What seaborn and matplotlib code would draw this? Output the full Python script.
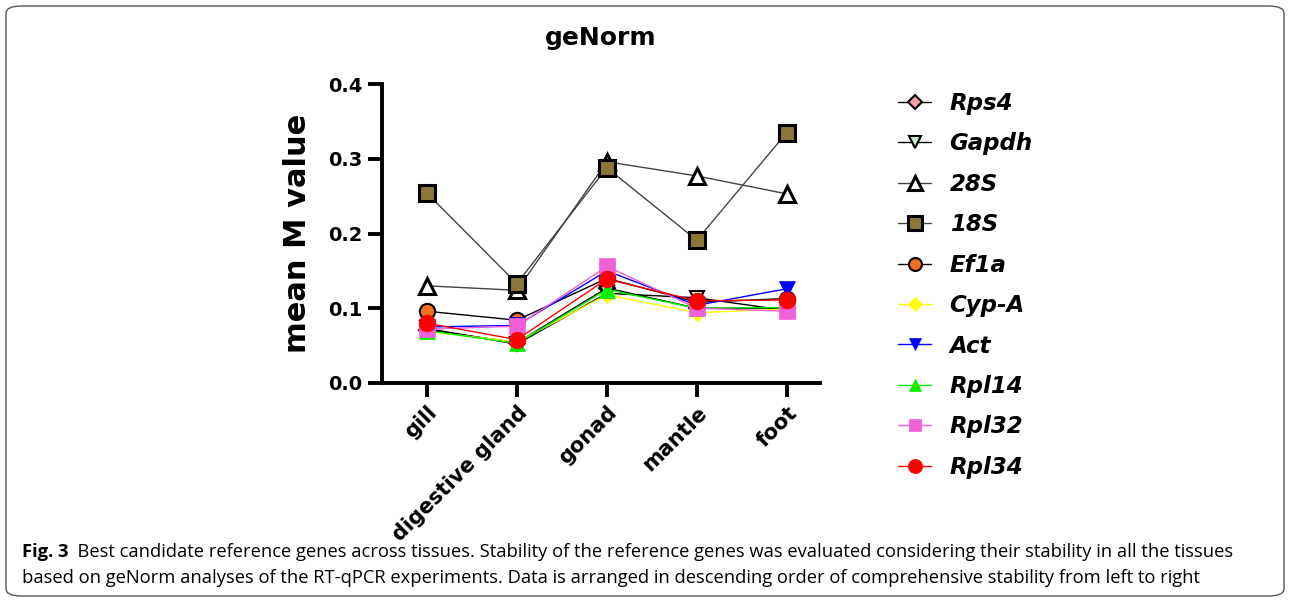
import matplotlib
matplotlib.use("Agg")
import matplotlib.pyplot as plt
from matplotlib.patches import FancyBboxPatch
from matplotlib.lines import Line2D
import seaborn as sns
import pandas as pd

tissues = ["gill", "digestive gland", "gonad", "mantle", "foot"]
genes = ["Rps4", "Gapdh", "28S", "18S", "Ef1a", "Cyp-A", "Act", "Rpl14", "Rpl32", "Rpl34"]

rps4 = [0.071, 0.054, 0.127, 0.100, 0.100]
gapdh = [0.073, 0.052, 0.120, 0.114, 0.097]
s28 = [0.130, 0.124, 0.296, 0.277, 0.253]
s18 = [0.254, 0.133, 0.288, 0.191, 0.335]
ef1a = [0.096, 0.084, 0.140, 0.108, 0.113]
cypa = [0.069, 0.055, 0.118, 0.094, 0.099]
act = [0.075, 0.077, 0.150, 0.104, 0.126]
rpl14 = [0.070, 0.053, 0.125, 0.100, 0.101]
rpl32 = [0.072, 0.076, 0.156, 0.100, 0.096]
rpl34 = [0.080, 0.058, 0.139, 0.110, 0.111]
values = [rps4, gapdh, s28, s18, ef1a, cypa, act, rpl14, rpl32, rpl34]

title = "geNorm"
ylabel = "mean M value"
yticks = [0.0, 0.1, 0.2, 0.3, 0.4]
caption_bold = "Fig. 3"
caption_1 = "  Best candidate reference genes across tissues. Stability of the reference genes was evaluated considering their stability in all the tissues"
caption_2 = "based on geNorm analyses of the RT-qPCR experiments. Data is arranged in descending order of comprehensive stability from left to right"

styles = {
    "Rps4":  dict(marker="D", mfc="#f4a3a8", mec="black", line="black", ms=8, mew=1.5),
    "Gapdh": dict(marker="v", mfc="#c8f0c8", mec="black", line="black", ms=10, mew=1.5),
    "28S":   dict(marker="^", mfc="white", mec="black", line="#444444", ms=12, mew=2.2),
    "18S":   dict(marker="s", mfc="#8a7838", mec="black", line="#444444", ms=12, mew=2.2),
    "Ef1a":  dict(marker="o", mfc="#f07020", mec="black", line="black", ms=11, mew=1.5),
    "Cyp-A": dict(marker="D", mfc="#ffff00", mec="#ffff00", line="#ffff00", ms=8, mew=0.5),
    "Act":   dict(marker="v", mfc="#0000ff", mec="#0000ff", line="#0000ff", ms=11, mew=0.5),
    "Rpl14": dict(marker="^", mfc="#00ee00", mec="#00ee00", line="#00ee00", ms=11, mew=0.5),
    "Rpl32": dict(marker="s", mfc="#f060d8", mec="#f060d8", line="#f060d8", ms=11, mew=0.5),
    "Rpl34": dict(marker="o", mfc="#ff0000", mec="#ff0000", line="#ff0000", ms=12, mew=0.5),
}

sns.set_theme(style="ticks")
plt.rcParams["font.family"] = ["DejaVu Sans"]
for k in ["text.color", "axes.labelcolor", "xtick.color", "ytick.color", "axes.edgecolor"]:
    plt.rcParams[k] = "black"

fig = plt.figure(figsize=(12.9, 6.02), dpi=100)
ax = fig.add_axes([382 / 1290, 1 - 383 / 602, (820 - 382) / 1290, (383 - 84) / 602])

handles = []
for g, v in zip(genes, values):
    st = styles[g]
    df = pd.DataFrame({"pos": list(range(len(tissues))), "val": v})
    sns.lineplot(data=df, x="pos", y="val", ax=ax, color=st["line"], linewidth=1.0,
                 marker=st["marker"], markersize=st["ms"], markerfacecolor=st["mfc"],
                 markeredgecolor=st["mec"], markeredgewidth=st["mew"], legend=False)
    handles.append(Line2D([0], [0], color=st["line"], lw=1.0, marker=st["marker"],
                          markersize=st["ms"] * 0.85, markerfacecolor=st["mfc"],
                          markeredgecolor=st["mec"], markeredgewidth=st["mew"], label=g))

ax.set_xlim(-0.5, 4.37)
ax.set_ylim(0, 0.4)
ax.set_yticks(yticks)
ax.set_yticklabels([f"{t:.1f}" for t in yticks], fontsize=14, fontweight="bold")
ax.set_xticks(range(len(tissues)))
ax.set_xticklabels(tissues, rotation=45, ha="right", rotation_mode="anchor",
                   fontsize=15, fontweight="bold")
ax.set_xlabel("")
ax.set_ylabel(ylabel, fontsize=22, fontweight="bold", labelpad=12)
sns.despine(ax=ax)
for s in ["left", "bottom"]:
    ax.spines[s].set_linewidth(2.8)
ax.tick_params(axis="both", width=2.8, length=10, direction="out", pad=4)
ax.set_title(title, fontsize=18, fontweight="bold", pad=28)

leg = fig.legend(handles=handles, loc="upper left", bbox_to_anchor=(898 / 1290, 1 - 92 / 602),
                 frameon=False, handlelength=1.45, handletextpad=0.8, labelspacing=0.76,
                 borderpad=0, borderaxespad=0,
                 prop=dict(size=16.5, weight="bold", style="italic", family="DejaVu Sans"))

box = FancyBboxPatch((6 / 1290, 6 / 602), 1278 / 1290, 590 / 602,
                     boxstyle="round,pad=0,rounding_size=0.012", transform=fig.transFigure,
                     fill=False, edgecolor="#555555", linewidth=1.0)
fig.patches.append(box)

t1 = fig.text(22 / 1290, 1 - 552 / 602, caption_bold, fontsize=13.2, fontweight="bold",
              family="Open Sans", va="center")
fig.canvas.draw()
bb = t1.get_window_extent()
fig.text(bb.x1 / 1290, 1 - 552 / 602, caption_1, fontsize=13.2, family="Open Sans", va="center")
fig.text(22 / 1290, 1 - 578 / 602, caption_2, fontsize=13.2, family="Open Sans", va="center")

fig.savefig("out.png", dpi=100)
